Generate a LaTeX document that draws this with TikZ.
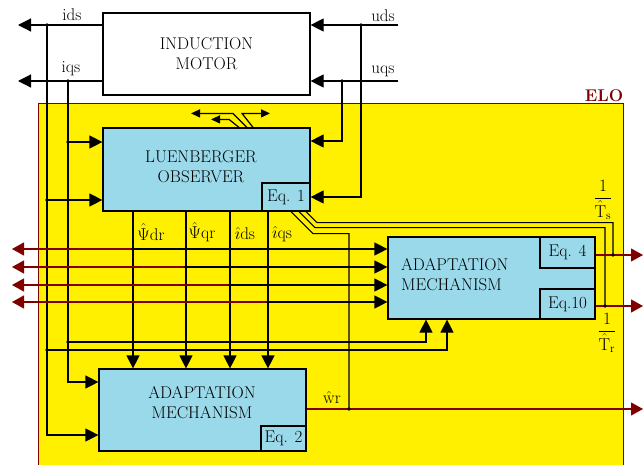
\documentclass[tikz,border=0pt]{standalone}
\usepackage{amsmath}
\usepackage{xcolor}
\usepackage{tikz}
\usetikzlibrary{arrows.meta, calc}

\definecolor{eloyellow}{RGB}{255,240,0}
\definecolor{boxblue}{RGB}{153,217,234}
\definecolor{darkred}{RGB}{128,0,0}

\tikzset{
  txt/.style={font=\fontsize{17}{20}\selectfont, inner sep=0pt, align=center},
  blk/.style={draw=black, line width=1.2pt, fill=boxblue, inner sep=0pt},
  eqbox/.style={blk, font=\fontsize{17}{20}\selectfont},
  sig/.style={line width=1.2pt},
  arr/.style={sig, -{Triangle[length=13pt,width=13pt]}},
  sarr/.style={sig, -{Triangle[length=9pt,width=8pt]}},
  rsig/.style={sig, color=darkred, -{Triangle[length=12pt,width=13pt]}},
  jdot/.style={circle, fill=black, inner sep=0pt, minimum size=3.8pt},
}

\begin{document}
\begin{tikzpicture}[x=1pt, y=-1pt]
      \useasboundingbox (0,0) rectangle (643,464);

      % ELO area
      \draw[darkred, fill=eloyellow, line width=1pt] (38,103) rectangle (623,470);
      \node[txt, text=darkred, font=\fontsize{17}{20}\selectfont\bfseries] (eloLbl) at (604,96) {ELO};

      % Blocks
      \node[draw, fill=white, line width=1.2pt, minimum width=207pt, minimum height=82pt, txt] (motor) at (206.5,54) {INDUCTION\\MOTOR};
      \node[blk, minimum width=207pt, minimum height=83pt] (obs) at (206.5,169.5) {};
      \node[txt] (obsTxt) at (201,167) {LUENBERGER\\OBSERVER};
      \node[eqbox, minimum width=48pt, minimum height=28pt] (eq1) at (286,197) {Eq. 1};

      \node[blk, minimum width=207pt, minimum height=82pt] (adA) at (491.5,278) {};
      \node[txt, anchor=west, align=left] (adATxt) at (401,275) {ADAPTATION\\MECHANISM};
      \node[eqbox, minimum width=55pt, minimum height=31pt] (eq4) at (567.5,252.5) {Eq. 4};
      \node[eqbox, minimum width=55pt, minimum height=30pt] (eq10) at (567.5,304) {Eq.10};

      \node[blk, minimum width=207pt, minimum height=82pt] (adB) at (202.5,410) {};
      \node[txt] (adBTxt) at (202,403) {ADAPTATION\\MECHANISM};
      \node[eqbox, minimum width=45pt, minimum height=25pt] (eq2) at (283.5,438.5) {Eq. 2};

      % Junctions and free ends
      \foreach \x/\y/\n in {47/25/jIds, 68/81/jIqs, 361/25/jUds, 342/81/jUqs,
                            68/142/jObsQ, 47/200/jObsD, 68/342/jAdQ, 47/350/jAdD,
                            133/249/jPdr, 186/267/jPqr, 230/285/jIdsH, 268/302/jIqsH,
                            613/255/jTs, 605/306/jTr, 349/409/jWr}
        \coordinate (\n) at (\x,\y);
      \coordinate (inL) at (18,0);
      \coordinate (inR) at (398,0);
      \coordinate (outL) at (12,0);
      \coordinate (outR) at (643,0);

      % Motor currents and voltages
      \draw[arr] (motor.west |- jIds) -- (jIds -| inL);
      \draw[arr] (motor.west |- jIqs) -- (jIqs -| inL);
      \draw[arr] (jUds -| inR) -- (jUds -| motor.east);
      \draw[arr] (jUqs -| inR) -- (jUqs -| motor.east);
      \node[txt] (lIds) at (72,15) {ids};
      \node[txt] (lIqs) at (71,69) {iqs};
      \node[txt] (lUds) at (383,16) {uds};
      \node[txt] (lUqs) at (383,71) {uqs};

      % Feeds into the observer
      \draw[arr] (jUds) |- (eq1.east);
      \draw[arr] (jUqs) |- ([yshift=28.5pt]obs.east);
      \draw[arr] (jObsQ) -- ([yshift=27.5pt]obs.west);
      \draw[arr] (jObsD) -- ([yshift=-30.5pt]obs.west);

      % Feeds into the lower adaptation mechanism
      \draw[arr] (jIds) |- ([yshift=-25pt]adB.west);
      \draw[arr] (jIqs) |- ([yshift=28pt]adB.west);

      % Feeds into the right adaptation mechanism
      \draw[arr] (jAdQ) -| ([xshift=-65.5pt]adA.south);
      \draw[arr] (jAdD) -| ([xshift=-44.5pt]adA.south);

      % Estimated states
      \foreach \j in {jPdr, jPqr, jIdsH, jIqsH} {
        \draw[rsig] (\j) -- (\j -| outL);
        \draw[arr] (\j) -- (\j -| adA.west);
        \draw[arr] (\j |- obs.south) -- (\j |- adB.north);
      }
      \node[txt] (lPdr) at (151,232) {$\hat{\Psi}$dr};
      \node[txt] (lPqr) at (202,232) {$\hat{\Psi}$qr};
      \node[txt] (lIdsH) at (245,234) {$\hat{\imath}$ds};
      \node[txt] (lIqsH) at (282,234) {$\hat{\imath}$qs};

      % Eq. 1 outputs
      \draw[sig] ([xshift=20pt]eq1.south) -- ++(11,11) -| (jTs);
      \draw[sig] ([xshift=13pt]eq1.south) -- ++(16,16) -| (jTr);
      \draw[sig] ([xshift=5pt]eq1.south) -- ++(22,22) -| (jWr);

      % Small arrows on top of the observer
      \draw[sarr] ([xshift=40.5pt]obs.north) -- ++(-14,-14) -- ++(-42,0);
      \draw[sarr] ([xshift=32.5pt]obs.north) -- ++(-10,-8) -- ++(-18,0);
      \draw[sarr] ([xshift=46.5pt]obs.north) -- ++(-11,-14) -- ++(28,0);

      % Outputs
      \draw[rsig] (eq4.east |- jTs) -- (jTs -| outR);
      \draw[rsig] (eq10.east |- jTr) -- (jTr -| outR);
      \draw[rsig] (adB.east |- jWr) -- (jWr -| outR);
      \node[txt] (lTs) at (603,200) {$\dfrac{1}{\hat{\mathrm{T}}_{\mathrm{s}}}$};
      \node[txt] (lTr) at (607,333) {$\dfrac{1}{\hat{\mathrm{T}}_{\mathrm{r}}}$};
      \node[txt] (lWr) at (332,397) {$\hat{\mathrm{w}}$r};

      % Junction dots
      \foreach \n in {jIds, jIqs, jUds, jUqs, jObsQ, jObsD, jAdQ, jAdD,
                      jPdr, jPqr, jIdsH, jIqsH, jTs, jTr, jWr}
        \node[jdot] at (\n) {};
\end{tikzpicture}
\end{document}
